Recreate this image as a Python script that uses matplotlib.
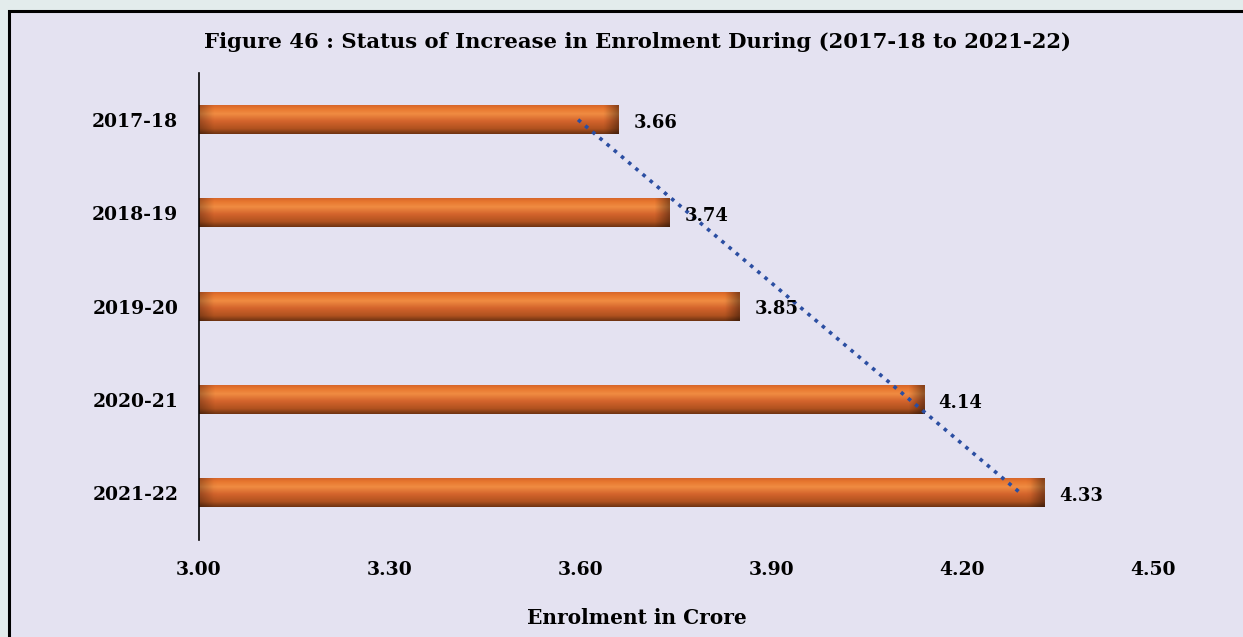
import numpy as np
import matplotlib.pyplot as plt
from matplotlib.patches import Rectangle
from matplotlib.colors import to_rgb

# data
years = ["2017-18", "2018-19", "2019-20", "2020-21", "2021-22"]
enrolment = [3.66, 3.74, 3.85, 4.14, 4.33]
xticks = [3.00, 3.30, 3.60, 3.90, 4.20, 4.50]

font = "DejaVu Serif"
bg_outer = "#E3ECEC"
bg_inner = "#E4E2F1"

fig = plt.figure(figsize=(12.43, 6.37), dpi=100)
fig.patch.set_facecolor(bg_outer)
fig.patches.append(Rectangle((9 / 1243, -0.05), 1.1, (637 - 11) / 637 + 0.05, transform=fig.transFigure,
                             facecolor=bg_inner, edgecolor="black", linewidth=2.2, zorder=-10))

ax = fig.add_axes([199 / 1243, (637 - 540) / 637, 954 / 1243, 467 / 637])
ax.set_facecolor("none")

y = np.arange(len(years))
h = 0.30

# bevelled bar texture: vertical gradient + darker ends
stops = [0.0, 0.12, 0.30, 0.55, 0.82, 1.0]
cols = ["#D8662A", "#E8772F", "#F08C42", "#D4642C", "#B0521F", "#6E3312"]
vals = np.linspace(0, 1, 60)
grad = np.zeros((60, 200, 3))
rgb = np.array([to_rgb(c) for c in cols])
for k in range(3):
    grad[:, :, k] = np.interp(vals, stops, rgb[:, k])[:, None]

for yi, v in zip(y, enrolment):
    img = grad.copy()
    n = img.shape[1]
    end_w = (0.022 / (v - 3.0)) * n
    xs = np.arange(n)
    shade = np.ones(n)
    shade = np.minimum(shade, 0.75 + 0.25 * np.clip(xs / max(end_w, 1), 0, 1))
    shade = np.minimum(shade, 0.62 + 0.38 * np.clip((n - 1 - xs) / max(end_w, 1), 0, 1))
    img = img * shade[None, :, None]
    ax.imshow(img, extent=(3.0, v, yi + h / 2, yi - h / 2), aspect="auto",
              interpolation="bilinear", zorder=2)
    ax.text(v + 0.023, yi + 0.03, f"{v:.2f}", va="center", ha="left", fontsize=13,
            fontweight="bold", family=font, zorder=4)

# linear trendline
coef = np.polyfit(y, enrolment, 1)
ax.plot(np.polyval(coef, y), y, linestyle=(0, (1, 1.6)), color="#2B4EA2",
        linewidth=2.6, zorder=3)

for s in ["top", "right", "bottom"]:
    ax.spines[s].set_visible(False)
ax.spines["left"].set_linewidth(1.2)

ax.set_xlim(3.0, 4.5)
ax.set_ylim(len(years) - 0.5, -0.5)
ax.set_xticks(xticks)
ax.set_xticklabels([f"{t:.2f}" for t in xticks], fontweight="bold", family=font)
ax.set_yticks(y)
ax.set_yticklabels(years, fontweight="bold", family=font)
ax.tick_params(length=0, labelsize=13.5)
ax.tick_params(axis="x", pad=15)
ax.tick_params(axis="y", pad=15)

fig.text(637 / 1243, 1 - 618 / 637, "Enrolment in Crore", ha="center", va="center",
         fontsize=14.5, fontweight="bold", family=font)
fig.text(637 / 1243, 1 - 42 / 637, "Figure 46 : Status of Increase in Enrolment During (2017-18 to 2021-22)",
         ha="center", va="center", fontsize=15.2, fontweight="bold", family=font)

fig.savefig("out.png", dpi=100, facecolor=fig.get_facecolor())
